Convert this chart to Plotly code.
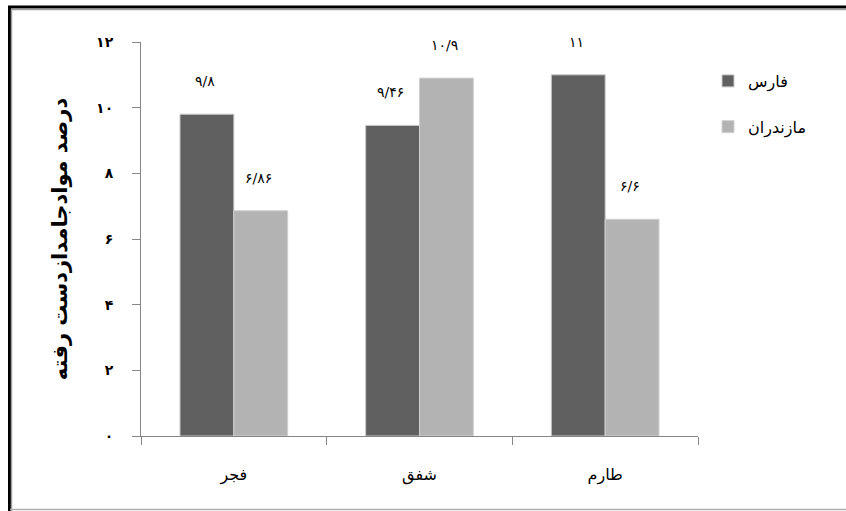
import plotly.graph_objects as go

categories = ["فجر", "شفق", "طارم"]
series_names = ["فارس", "مازندران"]
fars = [9.8, 9.46, 11.0]
mazandaran = [6.86, 10.9, 6.6]
fars_labels = ["۹/۸", "۹/۴۶", "۱۱"]
maz_labels = ["۶/۸۶", "۱۰/۹", "۶/۶"]
y_ticks = [0, 2, 4, 6, 8, 10, 12]
y_tick_labels = ["۰", "۲", "۴", "۶", "۸", "۱۰", "۱۲"]
y_title = "درصد موادجامدازدست رفته"

FONT = "DejaVu Sans, Noto Sans, sans-serif"

fig = go.Figure()
fig.add_trace(go.Bar(x=categories, y=fars, name=series_names[0], legendgroup="g1",
                     marker=dict(color="#606060", line=dict(color="#c8c8c8", width=1))))
fig.add_trace(go.Bar(x=categories, y=mazandaran, name=series_names[1], legendgroup="g2",
                     marker=dict(color="#b3b3b3", line=dict(color="#d0d0d0", width=1))))

for vals, labs, shift in ((fars, fars_labels, -29), (mazandaran, maz_labels, 25)):
    for c, v, t in zip(categories, vals, labs):
        fig.add_annotation(x=c, y=v, text=t, showarrow=False, xref="x", yref="y",
                           xshift=shift, yshift=33, yanchor="middle",
                           font=dict(family=FONT, size=14, color="#000"))

W, H = 846, 511
L, R, T, B = 141, 148, 42, 75
def px(x): return (x - L) / (W - L - R)
def py(y): return (H - B - y) / (H - T - B)

# outer frame
fig.add_shape(type="line", xref="paper", yref="paper", x0=px(8), x1=px(846), y0=py(7), y1=py(7),
              line=dict(color="#000", width=3))
fig.add_shape(type="line", xref="paper", yref="paper", x0=px(9.5), x1=px(9.5), y0=py(6), y1=py(511),
              line=dict(color="#000", width=3))
fig.add_shape(type="line", xref="paper", yref="paper", x0=px(11), x1=px(846), y0=py(9.5), y1=py(9.5),
              line=dict(color="#a0a0a0", width=1.5))
fig.add_shape(type="line", xref="paper", yref="paper", x0=px(11.5), x1=px(11.5), y0=py(9), y1=py(511),
              line=dict(color="#a0a0a0", width=1.5))
fig.add_shape(type="line", xref="paper", yref="paper", x0=px(10), x1=px(846), y0=py(509.5), y1=py(509.5),
              line=dict(color="#b0b0b0", width=1.5))

fig.update_layout(
    width=W, height=H,
    margin=dict(l=L, r=R, t=T, b=B),
    paper_bgcolor="white", plot_bgcolor="white",
    barmode="group", bargap=0.42, bargroupgap=0,
    font=dict(family=FONT, color="#000"),
    showlegend=True,
    legend=dict(x=px(708), y=py(64), xanchor="left", yanchor="top",
                font=dict(family=FONT, size=16, color="#000"),
                tracegroupgap=22, itemwidth=30, bgcolor="rgba(0,0,0,0)"),
    xaxis=dict(showgrid=False, showline=True, linecolor="#868686", linewidth=1,
               ticks="outside", ticklen=8, tickcolor="#868686", tickson="boundaries",
               tickfont=dict(family=FONT, size=16, color="#000"), ticklabelstandoff=24),
    yaxis=dict(range=[0, 12], tickvals=y_ticks, ticktext=y_tick_labels,
               showgrid=False, showline=True, linecolor="#868686", linewidth=1,
               ticks="outside", ticklen=8, tickcolor="#868686", zeroline=False,
               tickfont=dict(family=FONT, size=14, color="#000", weight="bold"),
               ticklabelstandoff=16,
               title=dict(text=y_title, font=dict(family=FONT, size=21, color="#000", weight="bold"),
                          standoff=22)),
)
fig.write_html("out.html", config={"displayModeBar": False},
               post_script="document.body.style.margin='0';")
